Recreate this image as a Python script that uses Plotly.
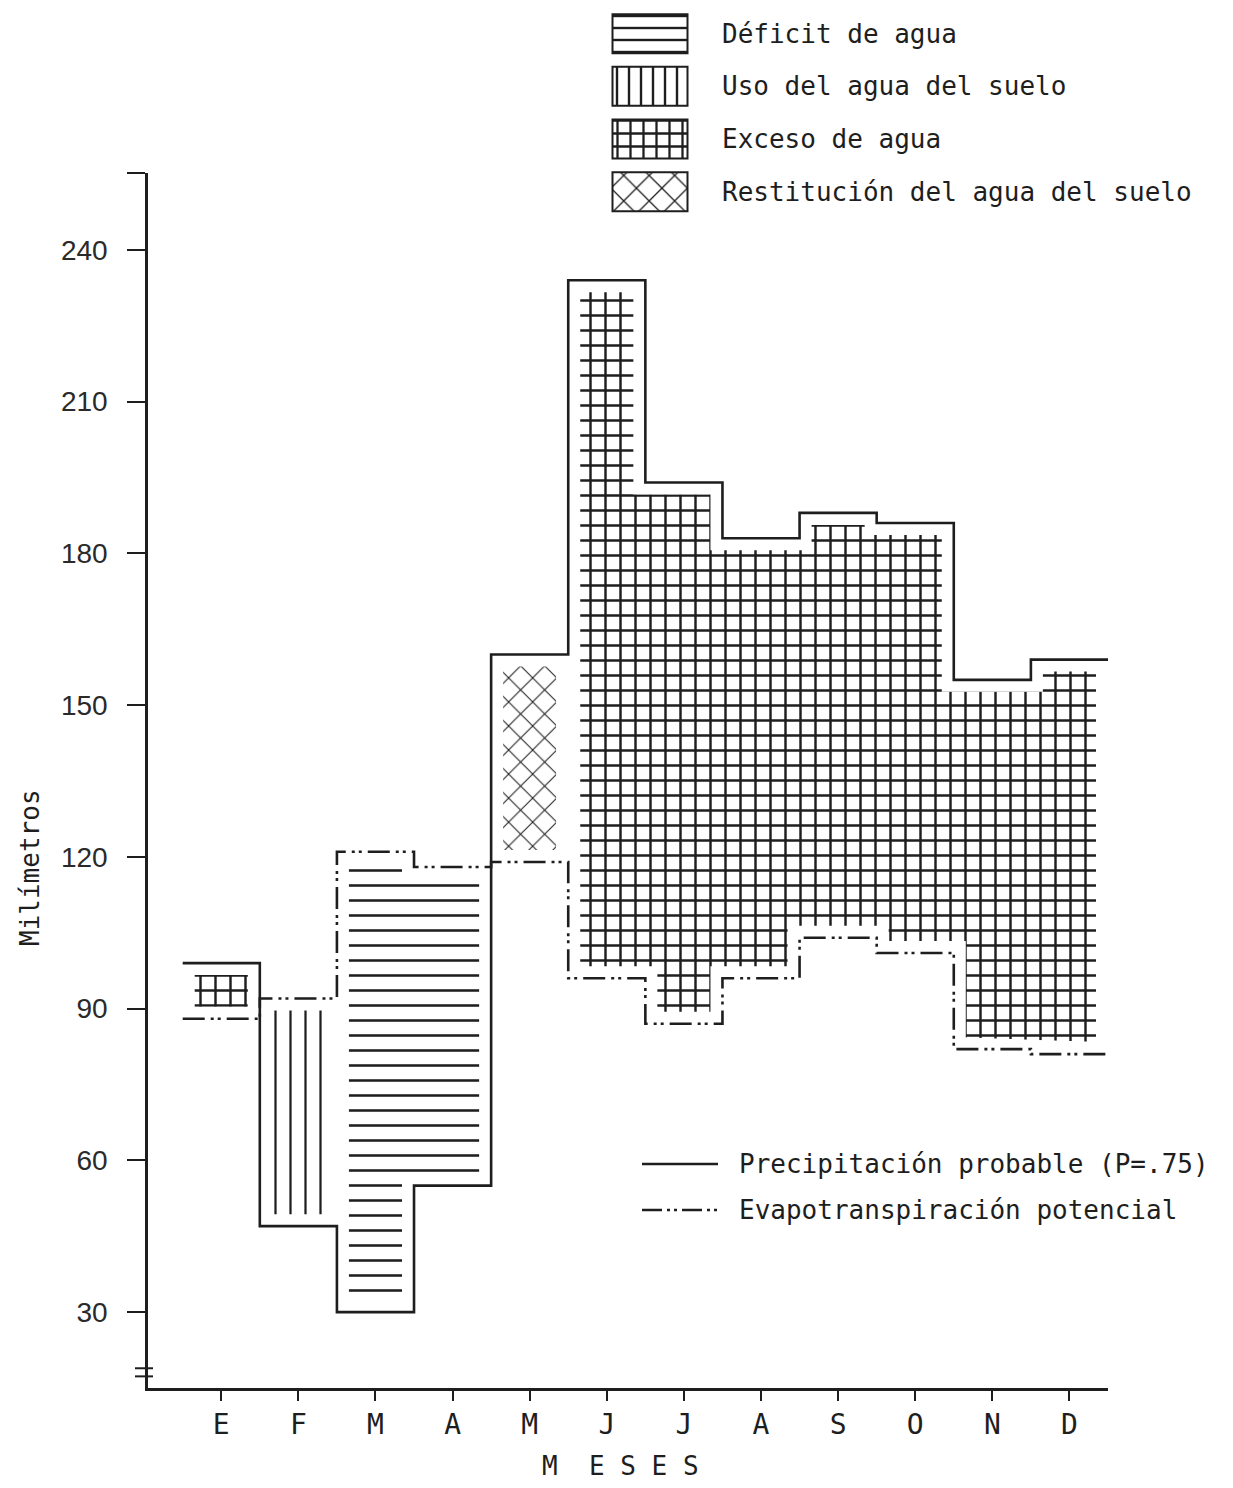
import numpy as np
import plotly.graph_objects as go

# ---------------- data ----------------
months = ["E", "F", "M", "A", "M", "J", "J", "A", "S", "O", "N", "D"]
precipitacion = [99, 47, 30, 55, 160, 234, 194, 183, 188, 186, 155, 159]   # P (P=.75), mm
evapotranspiracion = [88, 92, 121, 118, 119, 96, 87, 96, 104, 101, 82, 81]  # ETP, mm
balance = ["exceso", "uso", "deficit", "deficit", "restitucion",
           "exceso", "exceso", "exceso", "exceso", "exceso", "exceso", "exceso"]
y_ticks = [30, 60, 90, 120, 150, 180, 210, 240]

area_keys = ["deficit", "uso", "exceso", "restitucion"]
area_names = ["Déficit de agua", "Uso del agua del suelo", "Exceso de agua",
              "Restitución del agua del suelo"]
line_names = ["Precipitación probable (P=.75)", "Evapotranspiración potencial"]

# ---------------- style ----------------
PAPER = "#ffffff"
INK = "#1e1e1e"
MONO = "DejaVu Sans Mono"
W, H = 1217, 1472          # page minus the 8px body margin
DASH = "22px,6px,3px,4px,3px,6px"

PATTERN = {
    "deficit": dict(shape="-", size=15, solidity=0.17),
    "uso": dict(shape="|", size=15, solidity=0.15),
    "exceso": dict(shape="+", size=15, solidity=0.30),
    "restitucion": dict(shape="x", size=17, solidity=0.12),
}
LEG_PATTERN = {
    "deficit": dict(shape="-", size=12, solidity=0.2),
    "uso": dict(shape="|", size=12, solidity=0.2),
    "exceso": dict(shape="+", size=13, solidity=0.32),
    "restitucion": dict(shape="x", size=18, solidity=0.14),
}


def px(X):
    return (X - 8) / W


def py(Y):
    return 1 - (Y - 8) / H


P = np.array(precipitacion, dtype=float)
E = np.array(evapotranspiracion, dtype=float)
hi = np.maximum(P, E)
lo = np.minimum(P, E)

# contiguous runs of the same balance category
runs = []
start = 0
for i in range(1, len(months) + 1):
    if i == len(months) or balance[i] != balance[start]:
        runs.append((start, i - 1, balance[start]))
        start = i

fig = go.Figure()

for i0, i1, key in runs:
    xs, ys = [], []
    for i in range(i0, i1 + 1):
        xs += [i - 0.5, i + 0.5]
        ys += [hi[i], hi[i]]
    for i in range(i1, i0 - 1, -1):
        xs += [i + 0.5, i - 0.5]
        ys += [lo[i], lo[i]]
    xs.append(xs[0])
    ys.append(ys[0])
    fig.add_trace(go.Scatter(
        x=xs, y=ys, mode="lines", fill="toself", fillcolor=PAPER,
        fillpattern=dict(**PATTERN[key], fgcolor=INK, bgcolor=PAPER, fillmode="replace"),
        line=dict(color=PAPER, width=24), hoverinfo="skip", showlegend=False))

edges = np.arange(len(months) + 1) - 0.5
fig.add_trace(go.Scatter(
    x=edges, y=list(precipitacion) + [precipitacion[-1]], mode="lines",
    line=dict(shape="hv", color=INK, width=2.6), showlegend=False, name=line_names[0]))
fig.add_trace(go.Scatter(
    x=edges, y=list(evapotranspiracion) + [evapotranspiracion[-1]], mode="lines",
    line=dict(shape="hv", color=INK, width=2.6, dash=DASH), showlegend=False,
    name=line_names[1]))

# ---------------- pattern legend (top) ----------------
n = len(area_keys)
fig.add_trace(go.Bar(
    x=[1] * n, y=list(range(n)), base=0, orientation="h", width=0.74,
    xaxis="x2", yaxis="y2", showlegend=False, hoverinfo="skip",
    marker=dict(color=PAPER, line=dict(color=INK, width=2),
                pattern=dict(shape=[LEG_PATTERN[k]["shape"] for k in area_keys],
                             size=[LEG_PATTERN[k]["size"] for k in area_keys],
                             solidity=[LEG_PATTERN[k]["solidity"] for k in area_keys],
                             fgcolor=INK, bgcolor=PAPER, fillmode="replace"))))

# ---------------- line legend (bottom right) ----------------
fig.add_trace(go.Scatter(x=[0, 1], y=[0, 0], mode="lines", xaxis="x3", yaxis="y3",
                         line=dict(color=INK, width=2.6), showlegend=False, hoverinfo="skip"))
fig.add_trace(go.Scatter(x=[0, 1], y=[1, 1], mode="lines", xaxis="x3", yaxis="y3",
                         line=dict(color=INK, width=2.6, dash="20px,5px,3px,4px,3px,5px"),
                         showlegend=False, hoverinfo="skip"))

fig.update_layout(
    width=W, height=H, paper_bgcolor=PAPER, plot_bgcolor=PAPER,
    margin=dict(l=0, r=0, t=0, b=0), autosize=False,
    xaxis=dict(domain=[px(148), px(1108)], range=[-0.95, 11.5],
               tickmode="array", tickvals=list(range(len(months))), ticktext=months,
               ticks="outside", ticklen=10, tickwidth=2, tickcolor=INK,
               showline=True, linecolor=INK, linewidth=2.6, showgrid=False, zeroline=False,
               tickfont=dict(family=MONO, size=28, color=INK), automargin=False,
               anchor="y"),
    yaxis=dict(domain=[py(1388), py(173)], range=[15, 255.2],
               tickmode="array", tickvals=y_ticks + [255.2],
               ticktext=[str(v) for v in y_ticks] + [""],
               ticks="outside", ticklen=18, tickwidth=2, tickcolor=INK,
               showline=True, linecolor=INK, linewidth=2.6, showgrid=False, zeroline=False,
               tickfont=dict(family="Liberation Sans", size=28, color="#2a2a2a"),
               ticklabelstandoff=14, automargin=False, anchor="x"),
    xaxis2=dict(domain=[px(611), px(689)], range=[-0.02, 1.02], visible=False,
                anchor="y2"),
    yaxis2=dict(domain=[py(218), py(10)], range=[3.5, -0.45], side="right",
                anchor="x2", tickmode="array", tickvals=list(range(n)), ticktext=area_names,
                showline=False, showgrid=False, zeroline=False, ticks="",
                tickfont=dict(family=MONO, size=26, color=INK), ticklabelstandoff=32,
                automargin=False),
    xaxis3=dict(domain=[px(642), px(718)], range=[0, 1], visible=False, anchor="y3"),
    yaxis3=dict(domain=[py(1233), py(1141)], range=[1.5, -0.5], side="right",
                anchor="x3", tickmode="array", tickvals=[0, 1], ticktext=line_names,
                showline=False, showgrid=False, zeroline=False, ticks="",
                tickfont=dict(family=MONO, size=26, color=INK), ticklabelstandoff=20,
                automargin=False),
    annotations=[
        dict(text="M  E S E S", xref="paper", yref="paper", x=px(620), y=py(1466),
             xanchor="center", yanchor="middle", showarrow=False,
             font=dict(family=MONO, size=26, color=INK)),
        dict(text="Milímetros", xref="paper", yref="paper", x=px(30), y=py(868),
             xanchor="center", yanchor="middle", showarrow=False, textangle=-90,
             font=dict(family=MONO, size=26, color=INK)),
    ],
    shapes=[
        dict(type="line", xref="paper", yref="y", x0=px(135), x1=px(153), y0=18.9, y1=18.9,
             line=dict(color=INK, width=2)),
        dict(type="line", xref="paper", yref="y", x0=px(135), x1=px(153), y0=17.3, y1=17.3,
             line=dict(color=INK, width=2)),
    ],
)

fig.write_html("out.html")
